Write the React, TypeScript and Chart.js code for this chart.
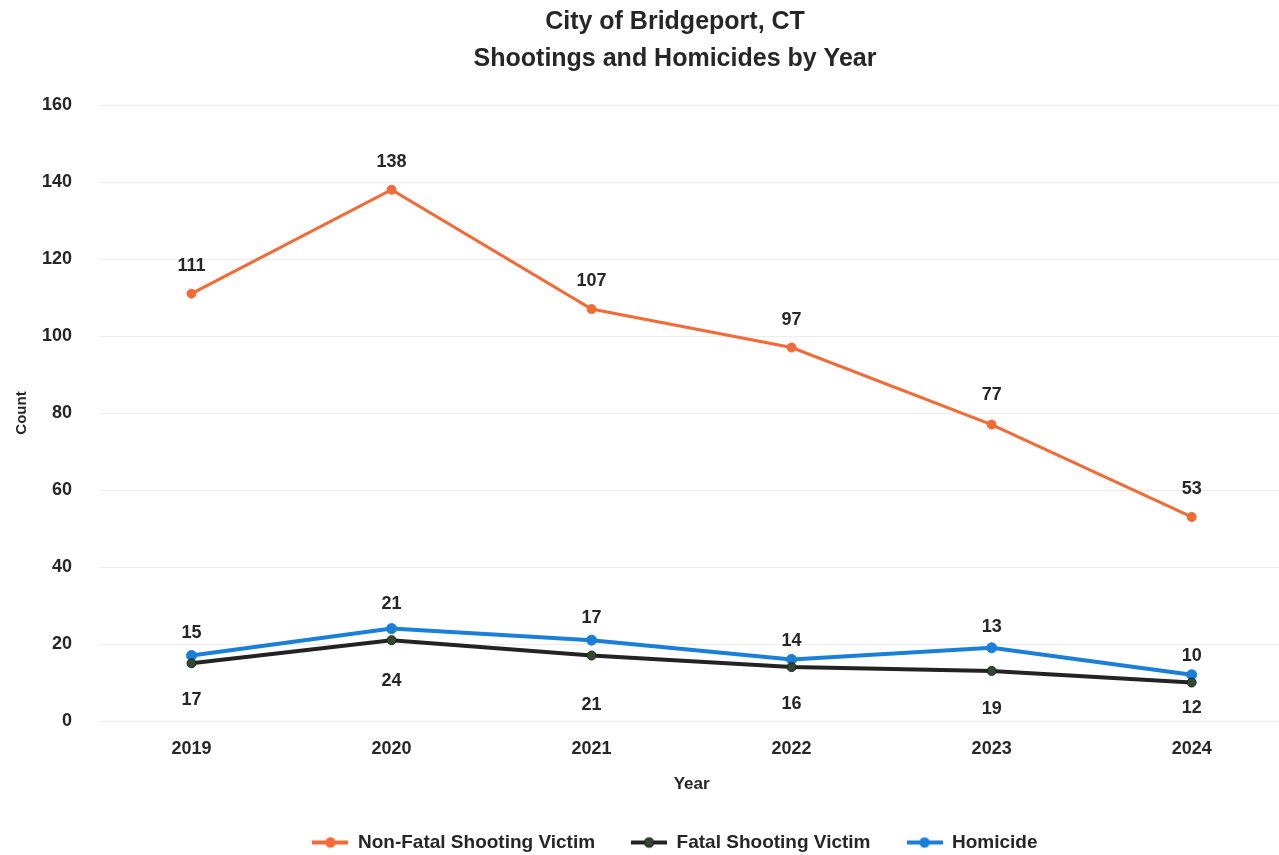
import React, { useEffect, useRef } from "react";
import { Chart, registerables } from "chart.js";

Chart.register(...registerables);

const years = [2019, 2020, 2021, 2022, 2023, 2024];
const nonFatal = [111, 138, 107, 97, 77, 53];
const fatal = [15, 21, 17, 14, 13, 10];
const homicide = [17, 24, 21, 16, 19, 12];
const seriesNames = ["Non-Fatal Shooting Victim", "Fatal Shooting Victim", "Homicide"];
const titleLines = ["City of Bridgeport, CT", "Shootings and Homicides by Year"];
const xTitle = "Year";
const yTitle = "Count";
const yMin = 0;
const yMax = 160;
const yStep = 20;

// label nudges (pixels from each point), as placed in the original chart
const nonFatalLabelNudge = [-28, -28, -28, -28, -30, -28];
const fatalLabelNudge = [-30, -36, -38, -26, -44, -26];
const homicideLabelNudge = [44, 52, 65, 45, 61, 33];

const ORANGE = "#F26A36";
const DARK = "#232323";
const BLUE = "#1A7FD8";
const TEXT = "#262626";
const FONT = "'Liberation Sans', Arial, sans-serif";

const CANVAS_W = 1350;
const CANVAS_H = 855;
const VIEW_W = 1279;

function makeMarker(line: string, dot: string): HTMLCanvasElement {
  const c = document.createElement("canvas");
  c.width = 36;
  c.height = 14;
  const ctx = c.getContext("2d")!;
  ctx.strokeStyle = line;
  ctx.lineWidth = 4;
  ctx.beginPath();
  ctx.moveTo(0, 7);
  ctx.lineTo(36, 7);
  ctx.stroke();
  ctx.fillStyle = dot;
  ctx.strokeStyle = line;
  ctx.lineWidth = 1.5;
  ctx.beginPath();
  ctx.arc(18, 7, 4.5, 0, Math.PI * 2);
  ctx.fill();
  ctx.stroke();
  return c;
}

const labelNudges = [nonFatalLabelNudge, fatalLabelNudge, homicideLabelNudge];

const dataLabelPlugin = {
  id: "dataLabels",
  afterDatasetsDraw(chart: any) {
    const ctx = chart.ctx;
    ctx.save();
    ctx.font = `bold 18px ${FONT}`;
    ctx.fillStyle = TEXT;
    ctx.textAlign = "center";
    ctx.textBaseline = "middle";
    chart.data.datasets.forEach((ds: any, di: number) => {
      const meta = chart.getDatasetMeta(di);
      meta.data.forEach((el: any, i: number) => {
        const v = ds.data[i].y;
        ctx.fillText(String(v), el.x, el.y + labelNudges[di][i]);
      });
    });
    ctx.restore();
  },
};

// Draw the x-axis title centred on the span of the year ticks (as in the original)
const xTitlePlugin = {
  id: "xTitleCentered",
  afterDraw(chart: any) {
    const xs = chart.scales.x;
    const ctx = chart.ctx;
    const cx = (xs.getPixelForValue(years[0]) + xs.getPixelForValue(years[years.length - 1])) / 2;
    const lh = 17 * 1.2;
    const cy = xs.bottom - 2 - lh / 2;
    ctx.save();
    ctx.font = `bold 17px ${FONT}`;
    ctx.fillStyle = TEXT;
    ctx.textAlign = "center";
    ctx.textBaseline = "middle";
    ctx.fillText(xTitle, cx, cy);
    ctx.restore();
  },
};

export default function App() {
  const ref = useRef<HTMLCanvasElement | null>(null);

  useEffect(() => {
    document.body.style.margin = "0";
    const canvas = ref.current!;
    const markers = [
      makeMarker(ORANGE, ORANGE),
      makeMarker(DARK, "#2f4a2f"),
      makeMarker(BLUE, BLUE),
    ];
    const toPts = (arr: number[]) => years.map((y, i) => ({ x: y, y: arr[i] }));
    const chart = new Chart(canvas, {
      type: "line",
      data: {
        datasets: [
          {
            label: seriesNames[0],
            data: toPts(nonFatal),
            borderColor: ORANGE,
            backgroundColor: ORANGE,
            borderWidth: 3,
            pointRadius: 4.5,
            pointBorderWidth: 1,
          },
          {
            label: seriesNames[1],
            data: toPts(fatal),
            borderColor: DARK,
            backgroundColor: "#2f4a2f",
            borderWidth: 4,
            pointRadius: 4.5,
            pointBorderWidth: 1,
          },
          {
            label: seriesNames[2],
            data: toPts(homicide),
            borderColor: BLUE,
            backgroundColor: BLUE,
            borderWidth: 4,
            pointRadius: 5,
            pointBorderWidth: 1,
          },
        ],
      },
      options: {
        responsive: false,
        animation: false,
        devicePixelRatio: 1,
        layout: { padding: { left: 0, right: 0, top: 0, bottom: -7 } },
        plugins: {
          title: {
            display: true,
            text: titleLines,
            color: TEXT,
            font: { family: FONT, size: 25, weight: "bold", lineHeight: 1.48 },
            padding: { top: 3.5, bottom: 27.5 },
          },
          legend: {
            position: "bottom",
            labels: {
              usePointStyle: true,
              pointStyleWidth: 36,
              padding: 36,
              color: TEXT,
              font: { family: FONT, size: 19, weight: "bold" },
              generateLabels: (ch: any) => {
                const items = (Chart.defaults.plugins.legend.labels as any).generateLabels(ch);
                return items.map((it: any, i: number) => ({ ...it, pointStyle: markers[i] }));
              },
            },
          },
          tooltip: { enabled: false },
        },
        scales: {
          x: {
            type: "linear",
            min: 2018.5425,
            max: 2024.7615,
            afterBuildTicks: (scale: any) => {
              scale.ticks = years.map((v) => ({ value: v }));
            },
            ticks: {
              callback: (v: any) => String(v),
              color: TEXT,
              font: { family: FONT, size: 18, weight: "bold" },
              padding: 17,
              maxRotation: 0,
              autoSkip: false,
            },
            grid: { display: false, drawTicks: false },
            border: { display: false },
            title: {
              display: true,
              text: xTitle,
              color: "rgba(0,0,0,0)",
              font: { family: FONT, size: 17, weight: "bold" },
              padding: { top: -2, bottom: 2 },
            },
          },
          y: {
            min: yMin,
            max: yMax,
            afterFit: (scale: any) => {
              scale.width = 100;
            },
            ticks: {
              stepSize: yStep,
              color: TEXT,
              font: { family: FONT, size: 18, weight: "bold" },
              padding: 28,
            },
            grid: { color: "#ececec", lineWidth: 1, drawTicks: false },
            border: { display: false },
            title: {
              display: true,
              text: yTitle,
              color: TEXT,
              font: { family: FONT, size: 15, weight: "bold" },
              padding: { top: 13, bottom: 0 },
            },
          },
        },
      },
      plugins: [dataLabelPlugin, xTitlePlugin],
    } as any);
    return () => chart.destroy();
  }, []);

  return (
    <div style={{ width: VIEW_W, height: CANVAS_H, overflow: "hidden", background: "#fff" }}>
      <canvas ref={ref} width={CANVAS_W} height={CANVAS_H} style={{ display: "block", width: CANVAS_W, height: CANVAS_H }} />
    </div>
  );
}
